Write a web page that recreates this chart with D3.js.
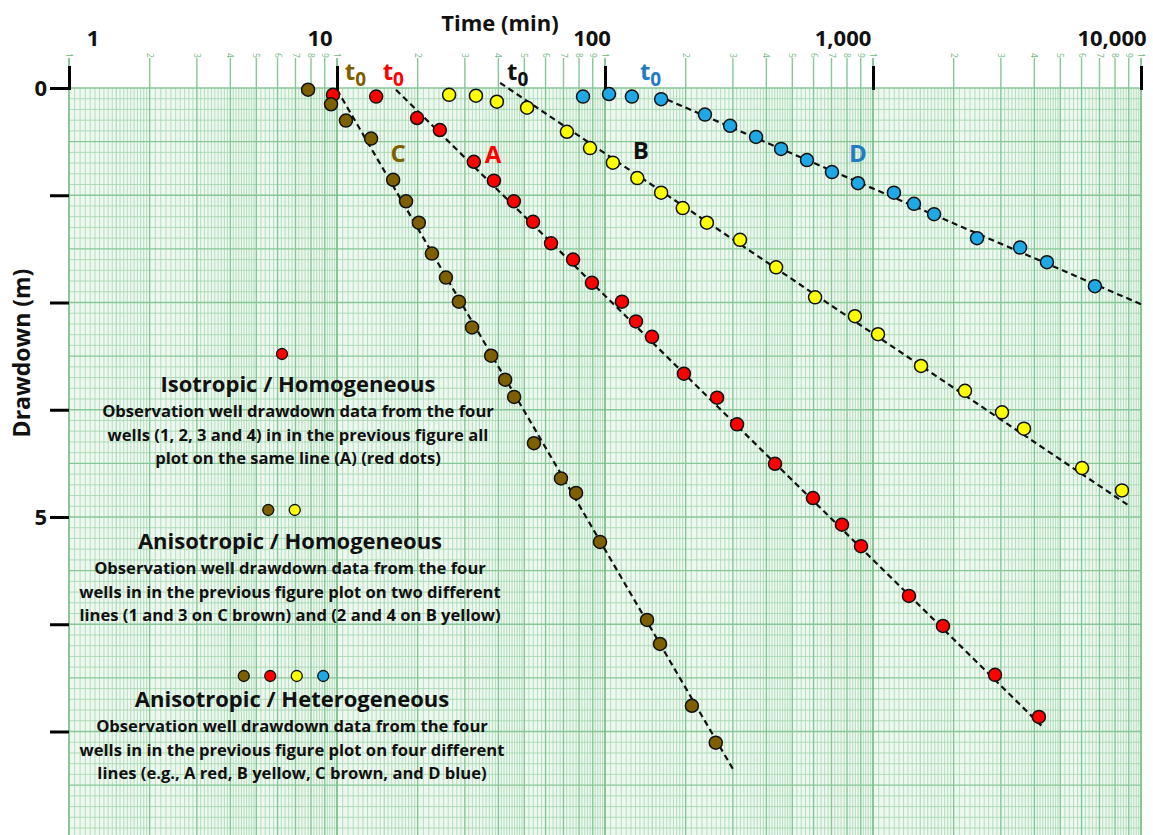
<!DOCTYPE html>
<html>
<head>
<meta charset="utf-8">
<script src="https://cdn.jsdelivr.net/npm/d3@7"></script>
<style>
  body { margin: 0; background: #fff; }
  text { font-family: "Open Sans", Lato, sans-serif; font-weight: 700; }
</style>
</head>
<body>
<div id="chart"></div>
<script>
// drawdown readings (time in min, drawdown in m)
const timeA = [9.66, 14.0, 19.9, 24.2, 32.4, 38.5, 45.7, 53.9, 62.9, 76.0, 89.4, 115.7, 130.5, 149.7, 197, 262, 311, 431, 597, 766, 902, 1362, 1824, 2852, 4160];
const drawA = [0.08, 0.10, 0.35, 0.49, 0.86, 1.08, 1.32, 1.56, 1.81, 2.00, 2.27, 2.49, 2.72, 2.90, 3.33, 3.61, 3.92, 4.38, 4.78, 5.09, 5.34, 5.92, 6.27, 6.84, 7.33];

const timeB = [26.2, 33.0, 39.5, 51.2, 72.1, 87.9, 107, 132, 162, 195, 240, 319, 435, 608, 856, 1044, 1511, 2204, 3030, 3658, 6026, 8492];
const drawB = [0.08, 0.09, 0.16, 0.23, 0.51, 0.70, 0.87, 1.05, 1.22, 1.40, 1.57, 1.77, 2.09, 2.44, 2.66, 2.87, 3.24, 3.53, 3.78, 3.97, 4.43, 4.69];

const timeC = [7.8, 9.5, 10.8, 13.4, 16.2, 18.1, 20.2, 22.6, 25.5, 28.5, 31.9, 37.6, 42.4, 45.8, 54.3, 68.5, 78.0, 95.8, 143.5, 160.4, 211, 259];
const drawC = [0.02, 0.19, 0.38, 0.59, 1.07, 1.32, 1.57, 1.93, 2.21, 2.49, 2.79, 3.12, 3.40, 3.60, 4.14, 4.55, 4.72, 5.29, 6.20, 6.48, 7.20, 7.63];

const timeD = [82.8, 103.5, 126, 162, 236, 293, 366, 454, 567, 703, 879, 1197, 1422, 1690, 2444, 3538, 4457, 6730];
const drawD = [0.10, 0.07, 0.10, 0.13, 0.31, 0.44, 0.57, 0.71, 0.84, 0.98, 1.11, 1.22, 1.35, 1.47, 1.75, 1.86, 2.03, 2.31];

// straight-line fits (start, end)
const fitTimeA = [16.6, 4307], fitDrawA = [0.02, 7.45];
const fitTimeB = [40.6, 8940], fitDrawB = [-0.06, 4.86];
const fitTimeC = [10.0, 303], fitDrawC = [0.02, 7.96];
const fitTimeD = [157.7, 10170], fitDrawD = [0.09, 2.53];

const seriesColors = ["#ff0000", "#ffff00", "#7f6000", "#1ea8e6"];
const labelColors = ["#ff0000", "#111111", "#7f6000", "#1f7cc4"];
const lineLetters = ["A", "B", "C", "D"];
const letterTime = [38.2, 136, 16.9, 879];
const letterDraw = [0.87, 0.83, 0.86, 0.86];
const t0Time = [14.8, 43.1, 10.7, 135];

const decadeTicks = [1, 10, 100, 1000, 10000];
const decadeLabels = ["1", "10", "100", "1,000", "10,000"];
const yTicks = [0, 1.25, 2.5, 3.75, 5, 6.25, 7.5];

const width = 1153, height = 835;
const svg = d3.select("#chart").append("svg").attr("width", width).attr("height", height);

const x = d3.scaleLog().domain([1, 10000]).range([69, 1141]);
const y = d3.scaleLinear().domain([0, 5]).range([88, 517]);
const gridTop = y(0), gridBottom = height;

// graph paper
const paper = svg.append("g");
paper.append("rect").attr("x", x(1)).attr("y", gridTop)
  .attr("width", x(10000) - x(1)).attr("height", gridBottom - gridTop).attr("fill", "#eef8f0");

const vLines = [];
for (let k = 0; k < 4; k++) {
  const base = Math.pow(10, k);
  const steps = [[1, 2, 0.05], [2, 5, 0.1], [5, 10, 0.2]];
  steps.forEach(([a, b, s]) => {
    const n = Math.round((b - a) / s);
    for (let i = 0; i < n; i++) {
      const v = +(a + i * s).toFixed(2);
      const major = Math.abs(v - Math.round(v)) < 1e-6;
      vLines.push({ t: base * v, digit: major ? Math.round(v) : null, half: Math.abs(v - 1.5) < 1e-6 });
    }
  });
}
vLines.push({ t: 10000, digit: 1, half: false });

paper.selectAll(".vminor").data(vLines.filter(d => !d.digit)).enter().append("line")
  .attr("x1", d => x(d.t)).attr("x2", d => x(d.t))
  .attr("y1", gridTop).attr("y2", gridBottom)
  .attr("stroke", d => d.half ? "#96cfa3" : "#acdbb6").attr("stroke-width", 0.9);

const hLines = d3.range(0, 71).map(i => i * 0.125);
paper.selectAll(".hline").data(hLines).enter().append("line")
  .attr("x1", x(1)).attr("x2", x(10000))
  .attr("y1", d => y(d)).attr("y2", d => y(d))
  .attr("stroke", (d, i) => i % 5 === 0 ? "#86c796" : "#a6d8b1")
  .attr("stroke-width", (d, i) => i % 5 === 0 ? 1.3 : 0.9);

paper.selectAll(".vmajor").data(vLines.filter(d => d.digit)).enter().append("line")
  .attr("x1", d => x(d.t)).attr("x2", d => x(d.t))
  .attr("y1", 58).attr("y2", gridBottom)
  .attr("stroke", d => d.digit === 1 ? "#78bd89" : "#86c796")
  .attr("stroke-width", d => d.digit === 1 ? 1.7 : 1.4);

paper.selectAll(".digit").data(vLines.filter(d => d.digit)).enter().append("text")
  .attr("transform", d => `translate(${x(d.t)},53) rotate(90)`)
  .attr("dy", "0.35em")
  .attr("font-size", 8.5).style("font-weight", 400)
  .attr("fill", "#6fb882").text(d => d.digit);

// axes
const xAxis = svg.append("g").attr("transform", `translate(0,${gridTop + 2})`)
  .call(d3.axisTop(x).tickValues(decadeTicks).tickSize(24).tickFormat(""));
xAxis.select(".domain").remove();
xAxis.selectAll("line").attr("stroke", "#000").attr("stroke-width", 3);

const labelShift = [24, -17, -13, -30, -29];
svg.selectAll(".xlab").data(decadeTicks).enter().append("text")
  .attr("x", (d, i) => x(d) + labelShift[i]).attr("y", 46)
  .attr("text-anchor", "middle").attr("font-size", 22).attr("fill", "#111")
  .text((d, i) => decadeLabels[i]);

const yAxis = svg.append("g").attr("transform", `translate(${x(1)},0)`)
  .call(d3.axisLeft(y).tickValues(yTicks).tickSize(19).tickPadding(3)
    .tickFormat(d => (d === 0 || d === 5) ? d : ""));
yAxis.select(".domain").remove();
yAxis.selectAll("line").attr("stroke", "#000").attr("stroke-width", 3);
yAxis.selectAll("text").attr("font-size", 22).attr("fill", "#111")
  .style("font-family", "'Open Sans', sans-serif").style("font-weight", 700);

svg.append("text").attr("x", 500).attr("y", 31).attr("text-anchor", "middle")
  .attr("font-size", 22).attr("fill", "#111").text("Time (min)");
svg.append("text").attr("transform", "translate(30,353) rotate(-90)")
  .attr("text-anchor", "middle").attr("font-size", 23).attr("fill", "#111").text("Drawdown (m)");

// fitted dashed lines
const fits = [[fitTimeA, fitDrawA], [fitTimeB, fitDrawB], [fitTimeC, fitDrawC], [fitTimeD, fitDrawD]];
const lineGen = d3.line().x(d => x(d[0])).y(d => y(d[1]));
svg.selectAll(".fit").data(fits).enter().append("path")
  .attr("d", d => lineGen(d[0].map((t, i) => [t, d[1][i]])))
  .attr("fill", "none").attr("stroke", "#111").attr("stroke-width", 2.2)
  .attr("stroke-dasharray", "6,4");

// data points
const series = [[timeA, drawA], [timeB, drawB], [timeC, drawC], [timeD, drawD]];
series.forEach(([ts, ds], s) => {
  svg.append("g").selectAll("circle").data(ts.map((t, i) => [t, ds[i]])).enter().append("circle")
    .attr("cx", d => x(d[0])).attr("cy", d => y(d[1])).attr("r", 6.5)
    .attr("fill", seriesColors[s]).attr("stroke", "#111").attr("stroke-width", 1.5);
});

// line letters and t0 labels
svg.selectAll(".letter").data(lineLetters).enter().append("text")
  .attr("x", (d, i) => x(letterTime[i])).attr("y", (d, i) => y(letterDraw[i]))
  .attr("text-anchor", "middle").attr("font-size", 24)
  .attr("fill", (d, i) => labelColors[i]).text(d => d);

const t0 = svg.selectAll(".t0").data(t0Time).enter().append("text")
  .attr("x", d => x(d)).attr("y", y(-0.09))
  .attr("font-size", 24).attr("fill", (d, i) => labelColors[i]);
t0.append("tspan").text("t");
t0.append("tspan").attr("dy", 6).attr("font-size", 19).text("0");

// explanation blocks
const blocks = [
  { cx: 298, head: 392, dots: [0], dotCx: 282, dotY: 354,
    title: "Isotropic / Homogeneous",
    lines: ["Observation well drawdown data from the four", "wells (1, 2, 3 and 4) in in the previous figure all", "plot on the same line (A) (red dots)"] },
  { cx: 290, head: 549, dots: [2, 1], dotCx: 281.5, dotY: 510,
    title: "Anisotropic / Homogeneous",
    lines: ["Observation well drawdown data from the four", "wells in in the previous figure plot on two different", "lines (1 and 3 on C brown) and (2 and 4 on B yellow)"] },
  { cx: 292, head: 707, dots: [2, 0, 1, 3], dotCx: 283.5, dotY: 676,
    title: "Anisotropic / Heterogeneous",
    lines: ["Observation well drawdown data from the four", "wells in in the previous figure plot on four different", "lines (e.g., A red, B yellow, C brown, and D blue)"] }
];
blocks.forEach(b => {
  const g = svg.append("g");
  const n = b.dots.length;
  g.selectAll("circle").data(b.dots).enter().append("circle")
    .attr("cx", (d, i) => b.dotCx + (i - (n - 1) / 2) * 26.5).attr("cy", b.dotY).attr("r", 5.5)
    .attr("fill", d => seriesColors[d]).attr("stroke", "#111").attr("stroke-width", 1.3);
  g.append("text").attr("x", b.cx).attr("y", b.head).attr("text-anchor", "middle")
    .attr("font-size", 22).attr("fill", "#111").text(b.title);
  g.selectAll(".ln").data(b.lines).enter().append("text")
    .attr("x", b.cx).attr("y", (d, i) => b.head + 25 + i * 23.5)
    .attr("text-anchor", "middle").attr("font-size", 16.6).attr("fill", "#111").text(d => d);
});
</script>
</body>
</html>
